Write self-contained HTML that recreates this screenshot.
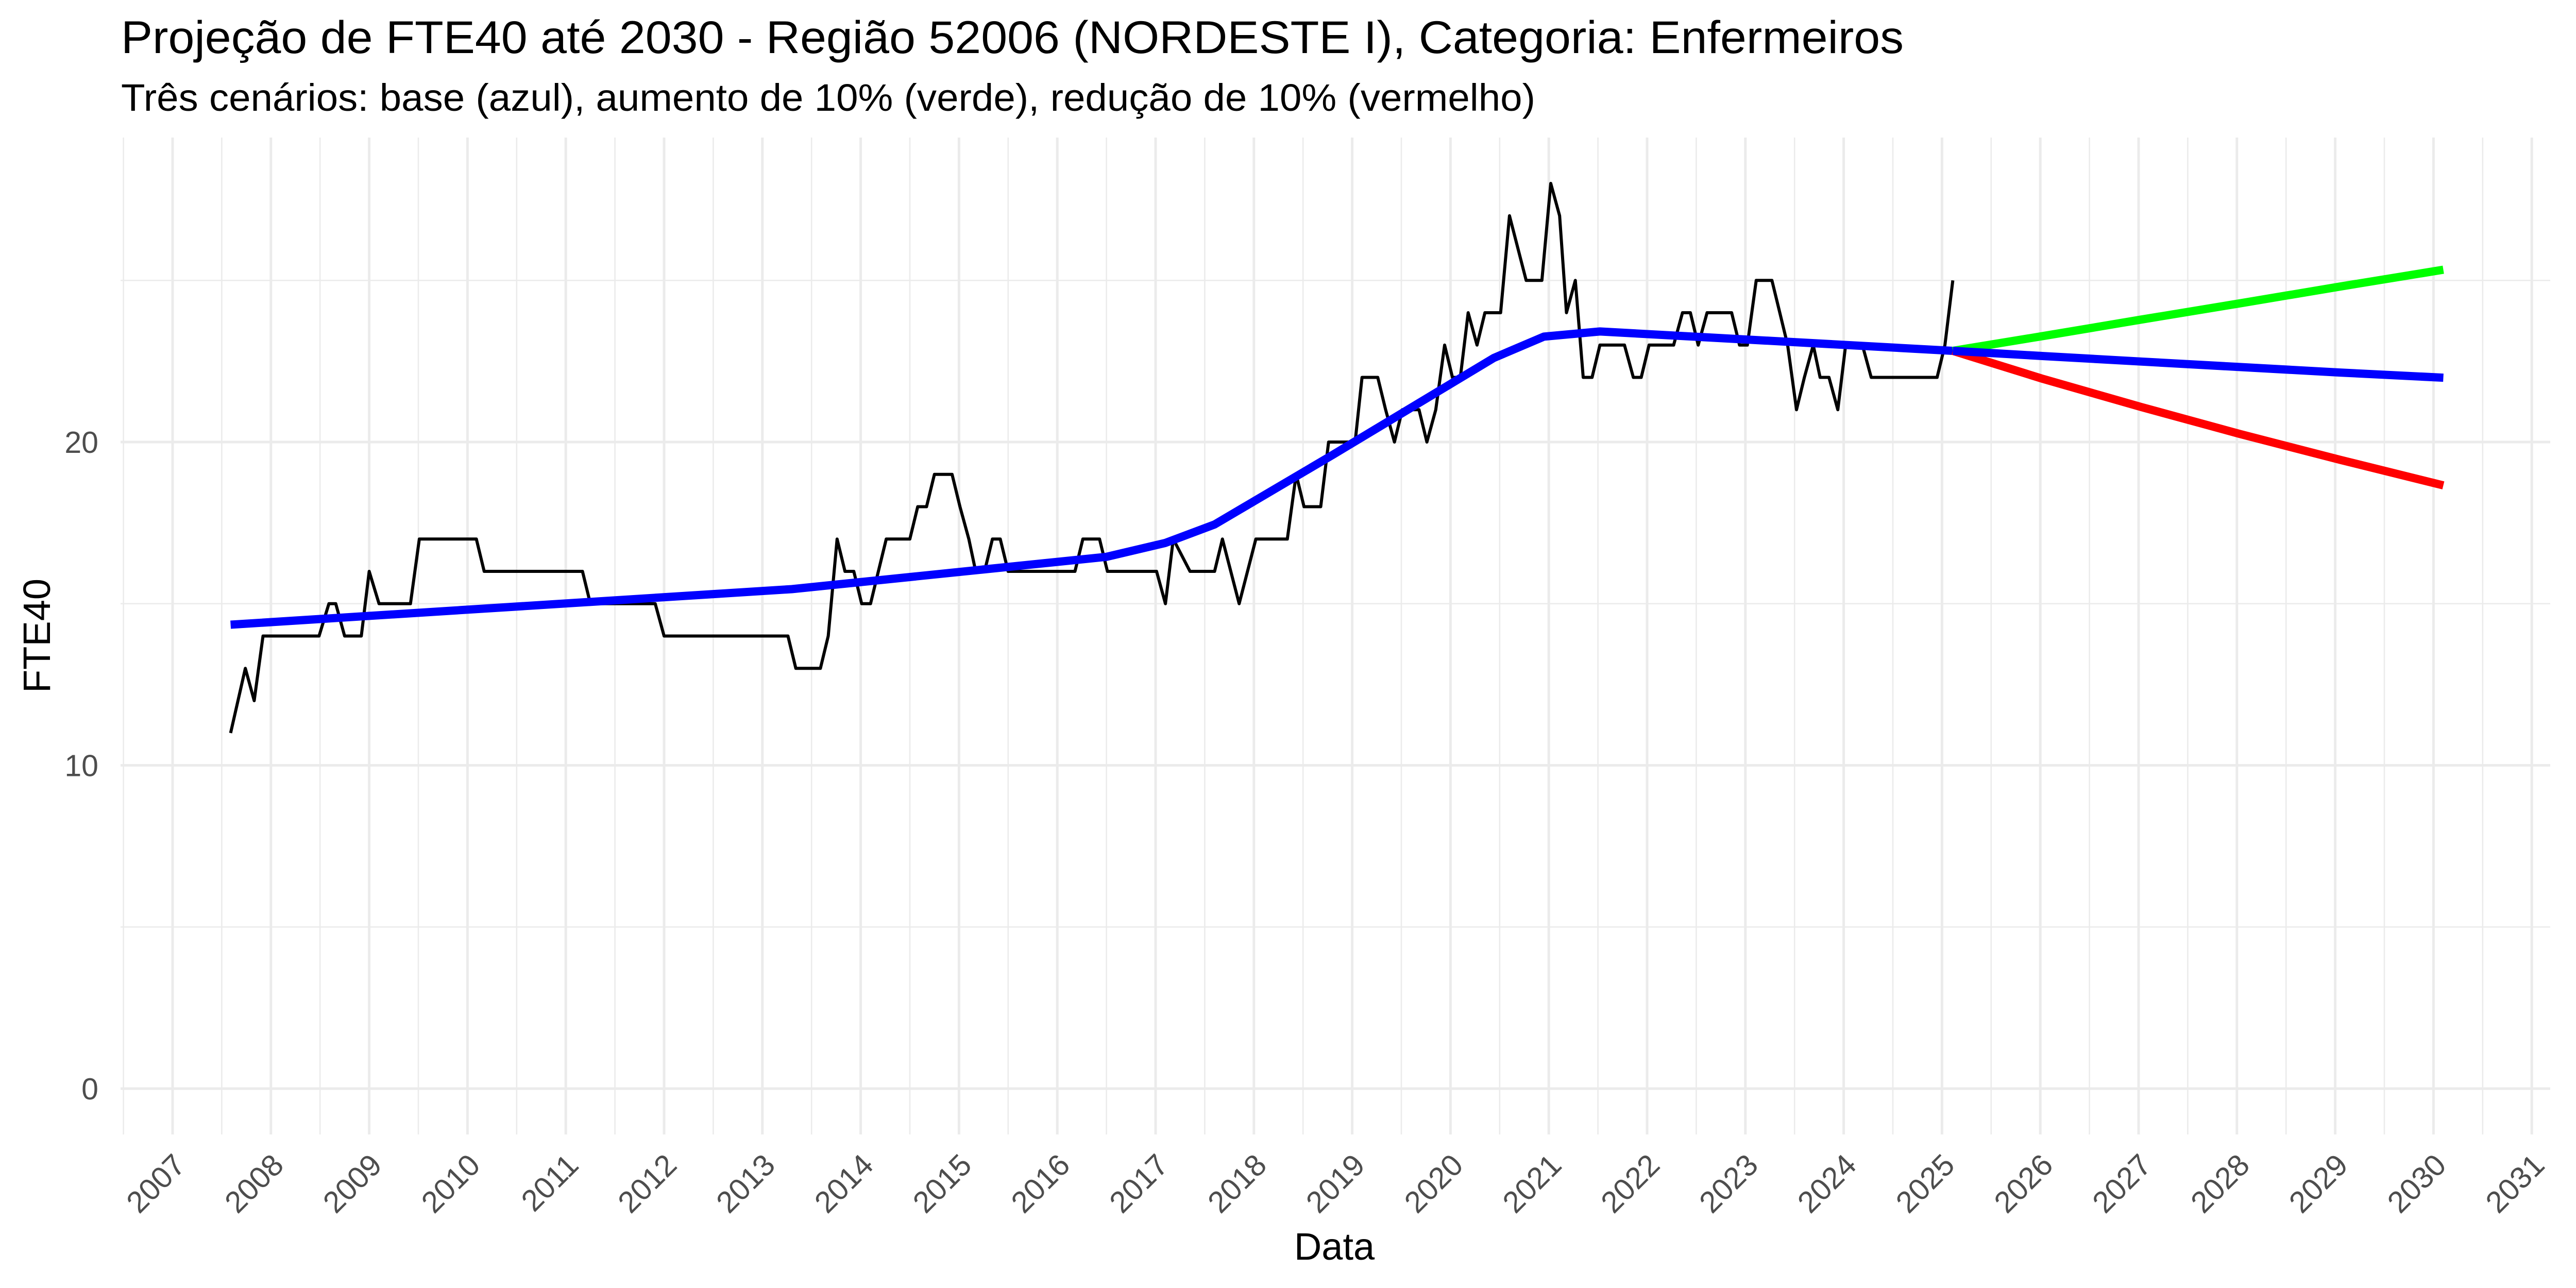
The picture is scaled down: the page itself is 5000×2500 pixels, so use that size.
<!DOCTYPE html>
<html><head><meta charset="utf-8"><style>
html,body{margin:0;padding:0;background:#fff;}
svg{display:block;font-family:"Liberation Sans",Arial,sans-serif;}
</style></head><body>
<svg id="chart" xmlns="http://www.w3.org/2000/svg" width="5000" height="2500" viewBox="0 0 5000 2500">
<rect x="0" y="0" width="5000" height="2500" fill="#fff"/>
<text x="235" y="103" font-size="89" fill="#000" textLength="3460" lengthAdjust="spacingAndGlyphs">Projeção de FTE40 até 2030 - Região 52006 (NORDESTE I), Categoria: Enfermeiros</text>
<text x="235" y="215" font-size="74" fill="#000" textLength="2745" lengthAdjust="spacingAndGlyphs">Três cenários: base (azul), aumento de 10% (verde), redução de 10% (vermelho)</text>
<g id="grid"></g>
<g id="series"></g>
<g id="axes"></g>
<text x="2590" y="2445" font-size="74" fill="#000" text-anchor="middle">Data</text>
<text x="0" y="0" font-size="74" fill="#000" text-anchor="middle" transform="translate(97,1234) rotate(-90)">FTE40</text>
</svg>
<script>
const yTicks = [0, 10, 20];
const yMinor = [5, 15, 25];
const xTickYears = [2007,2008,2009,2010,2011,2012,2013,2014,2015,2016,2017,2018,2019,2020,2021,2022,2023,2024,2025,2026,2027,2028,2029,2030,2031];
const obsDates = [2007.59,2007.74,2007.83,2007.92,2008.49,2008.59,2008.66,2008.75,2008.92,2009.0,2009.10,2009.42,2009.51,2010.09,2010.17,2011.17,2011.25,2011.91,2012.0,2013.26,2013.34,2013.59,2013.67,2013.76,2013.84,2013.93,2014.01,2014.1,2014.18,2014.26,2014.5,2014.58,2014.67,2014.75,2014.93,2015.01,2015.1,2015.17,2015.26,2015.34,2015.42,2015.5,2016.18,2016.26,2016.43,2016.51,2017.01,2017.1,2017.18,2017.35,2017.6,2017.68,2017.85,2018.02,2018.34,2018.43,2018.51,2018.68,2018.76,2018.93,2019.03,2019.1,2019.26,2019.34,2019.43,2019.51,2019.68,2019.76,2019.85,2019.94,2020.02,2020.1,2020.18,2020.27,2020.35,2020.51,2020.6,2020.77,2020.93,2021.02,2021.11,2021.18,2021.27,2021.35,2021.44,2021.52,2021.77,2021.86,2021.94,2022.02,2022.27,2022.36,2022.44,2022.52,2022.61,2022.86,2022.94,2023.02,2023.11,2023.27,2023.35,2023.43,2023.52,2023.6,2023.69,2023.76,2023.85,2023.94,2024.02,2024.19,2024.28,2024.95,2025.03,2025.11];
const obsValues = [11,13,12,14,14,15,15,14,14,16,15,15,17,17,16,16,15,15,14,14,13,13,14,17,16,16,15,15,16,17,17,18,18,19,19,18,17,16,16,17,17,16,16,17,17,16,16,15,17,16,16,17,15,17,17,19,18,18,20,20,20,22,22,21,20,21,21,20,21,23,22,22,24,23,24,24,27,25,25,28,27,24,25,22,22,23,23,22,22,23,23,24,24,23,24,24,23,23,25,25,24,23,21,22,23,22,22,21,23,23,22,22,23,25];
const trendDates = [2007.59,2013.3,2016.5,2017.1,2017.6,2018.8,2020.44,2020.95,2021.52,2025.11];
const trendValues = [14.35,15.45,16.45,16.88,17.45,19.6,22.6,23.26,23.42,22.82];
const projDates = [2025.11,2026.03,2027.03,2028.03,2029.05,2030.1];
const projBase = [22.82,22.66,22.49,22.32,22.15,21.99];
const projUp = [22.82,23.28,23.79,24.29,24.81,25.33];
const projDown = [22.82,21.95,21.08,20.25,19.45,18.66];

const NS = "http://www.w3.org/2000/svg";
const PX0 = 234, PX1 = 4950, PY0 = 267, PY1 = 2202;
function xScale(yr){ return 335 + (yr - 2007) * 190.8; }
function yScale(v){ return 2113 - v * 62.75; }
function mk(tag, attrs, parent){ const e = document.createElementNS(NS, tag); for (const k in attrs) e.setAttribute(k, attrs[k]); parent.appendChild(e); return e; }

const grid = document.getElementById('grid');
for (const v of yMinor) {
  const l = mk('line', {x1:PX0, x2:PX1, y1:yScale(v), y2:yScale(v), stroke:'#ebebeb', 'stroke-width':2.6}, grid);
  
  
}
for (const yr of xTickYears) {
  const xm = xScale(yr - 0.5);
  if (xm >= PX0 && xm <= PX1) {
    const l = mk('line', {x1:xm, x2:xm, y1:PY0, y2:PY1, stroke:'#ebebeb', 'stroke-width':2.6}, grid);
    
    
  }
}
for (const v of yTicks) {
  const l = mk('line', {x1:PX0, x2:PX1, y1:yScale(v), y2:yScale(v), stroke:'#ebebeb', 'stroke-width':5}, grid);
  
  
}
for (const yr of xTickYears) {
  const l = mk('line', {x1:xScale(yr), x2:xScale(yr), y1:PY0, y2:PY1, stroke:'#ebebeb', 'stroke-width':5}, grid);
  
  
}

const axes = document.getElementById('axes');
for (const v of yTicks) {
  const t = mk('text', {x:191, y:yScale(v) + 21, 'font-size':59, fill:'#4d4d4d', 'text-anchor':'end'}, axes);
  t.textContent = String(v);
  
  
}
for (const yr of xTickYears) {
  const ax = xScale(yr) + 28, ay = 2265;
  const t = mk('text', {x:ax, y:ay, 'font-size':59, fill:'#4d4d4d', 'text-anchor':'end', transform:'rotate(-45 ' + ax + ' ' + ay + ')'}, axes);
  t.textContent = String(yr);
  
  
}

const series = document.getElementById('series');
function pathD(xs, ys){ return xs.map((d,i) => (i ? 'L' : 'M') + xScale(d).toFixed(1) + ',' + yScale(ys[i]).toFixed(1)).join(' '); }
const obs = mk('path', {d:pathD(obsDates, obsValues), fill:'none', stroke:'#000', 'stroke-width':6, 'stroke-linejoin':'round'}, series);


const trend = mk('path', {d:pathD(trendDates, trendValues), fill:'none', stroke:'#0000ff', 'stroke-width':16, 'stroke-linejoin':'round'}, series);


const up = mk('path', {d:pathD(projDates, projUp), fill:'none', stroke:'#00ff00', 'stroke-width':16, 'stroke-linejoin':'round'}, series);


const down = mk('path', {d:pathD(projDates, projDown), fill:'none', stroke:'#ff0000', 'stroke-width':16, 'stroke-linejoin':'round'}, series);


const base = mk('path', {d:pathD(projDates, projBase), fill:'none', stroke:'#0000ff', 'stroke-width':16, 'stroke-linejoin':'round'}, series);


</script>
</body></html>
